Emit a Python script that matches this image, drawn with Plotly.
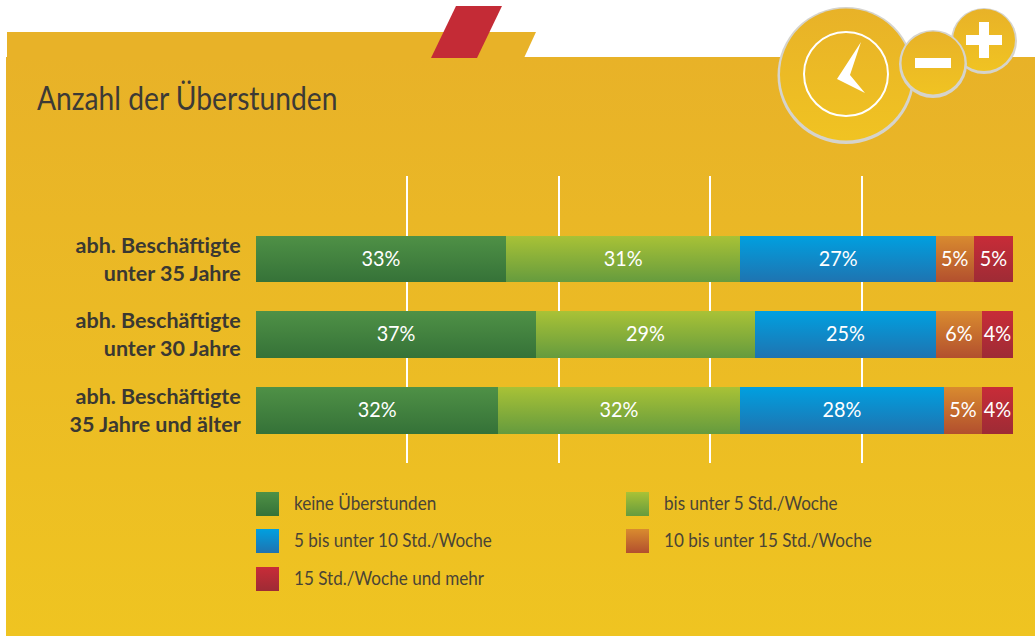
import plotly.graph_objects as go

W, H = 1035, 636
FONT = "Lato, Noto Sans, sans-serif"

categories = ["<b>abh. Beschäftigte<br>unter 35 Jahre</b>",
              "<b>abh. Beschäftigte<br>unter 30 Jahre</b>",
              "<b>abh. Beschäftigte<br>35 Jahre und älter</b>"]
series_names = ["keine Überstunden", "bis unter 5 Std./Woche", "5 bis unter 10 Std./Woche",
                "10 bis unter 15 Std./Woche", "15 Std./Woche und mehr"]
keine = [33.0, 37.0, 32.0]
bis5 = [31.0, 28.9, 31.9]
bis10 = [25.8, 23.9, 27.0]
bis15 = [5.0, 6.1, 5.0]
mehr = [5.2, 4.1, 4.1]
series_values = [keine, bis5, bis10, bis15, mehr]
# printed labels as they appear on the chart
labels_keine = ["33%", "37%", "32%"]
labels_bis5 = ["31%", "29%", "32%"]
labels_bis10 = ["27%", "25%", "28%"]
labels_bis15 = ["5%", "6%", "5%"]
labels_mehr = ["5%", "4%", "4%"]
series_labels = [labels_keine, labels_bis5, labels_bis10, labels_bis15, labels_mehr]
grid_ticks = [20, 40, 60, 80]

flat = ["#3f8240", "#86ad3a", "#0f8ccb", "#c46e2e", "#b32b37"]
grads = [("#4f9146", "#357238"), ("#a9c236", "#659b3e"), ("#00a0e0", "#1f73b0"),
         ("#d98b2f", "#b24f2e"), ("#c82c38", "#9e2b35")]


def px(x):
    return x / W


def py(y):
    return 1 - y / H


def path(points):
    return "M" + "L".join(f"{px(x):.5f},{py(y):.5f}" for x, y in points) + "Z"


shapes = []
gradmap = {}


def add_poly(points, color, grad=None, layer="below"):
    shapes.append(dict(type="path", xref="paper", yref="paper", path=path(points),
                       fillcolor=color, line=dict(width=0), layer=layer))
    if grad:
        gradmap[len(shapes) - 1] = grad


def add_circle(cx, cy, r, fill=None, line=None, lw=0, grad=None):
    shapes.append(dict(type="circle", xref="paper", yref="paper",
                       x0=px(cx - r), x1=px(cx + r), y0=py(cy + r), y1=py(cy - r),
                       fillcolor=fill if fill else "rgba(0,0,0,0)",
                       line=dict(width=lw, color=line if line else "rgba(0,0,0,0)"), layer="below"))
    if grad:
        gradmap[len(shapes) - 1] = grad


# card with tab
add_poly([(6, 57), (1035, 57), (1035, 636), (6, 636)], "#ebba25", "bg")
add_poly([(7, 32), (536, 32), (524, 58), (7, 58)], "#e8b228")
add_poly([(456, 6), (502, 6), (477, 58), (431, 58)], "#c42b36")
# clock badge
add_circle(846, 75.5, 68.5, "#d5d3cc")
add_circle(846, 74.5, 66, "#ecbc26", grad="badge")
add_circle(846, 74, 42, None, "#ffffff", 2)
add_poly([(861, 42), (837, 79), (865, 93), (850, 75)], "#ffffff")
# plus
add_circle(984, 41, 33, "#d5d3cc")
add_circle(984, 40, 31, "#ecbc26", grad="badge")
add_poly([(966, 35), (979, 35), (979, 22), (989, 22), (989, 35), (1002, 35), (1002, 45),
          (989, 45), (989, 58), (979, 58), (979, 45), (966, 45)], "#ffffff")
# minus
add_circle(933, 64, 34, "#d5d3cc")
add_circle(933, 63, 31.5, "#ecbc26", grad="badge")
add_poly([(915, 58), (951, 58), (951, 68), (915, 68)], "#ffffff")

annotations = [dict(text="Anzahl der Überstunden", x=px(35), y=py(97), xref="paper", yref="paper",
                    xanchor="left", yanchor="middle", showarrow=False,
                    font=dict(family=FONT, size=33, color="#3c3a36", weight=400))]

# legend, built from the series names
legend_pos = [(256, 504), (626, 504), (256, 541), (626, 541), (256, 579)]
for i, (name, (lx, ly)) in enumerate(zip(series_names, legend_pos)):
    add_poly([(lx, ly - 12), (lx + 23, ly - 12), (lx + 23, ly + 12), (lx, ly + 12)], flat[i], f"s{i}")
    annotations.append(dict(text=name, x=px(lx + 36), y=py(ly - 2), xref="paper", yref="paper",
                            xanchor="left", yanchor="middle", showarrow=False,
                            font=dict(family=FONT, size=19, color="#4a4436")))

fig = go.Figure()
for name, vals, labs, col in zip(series_names, series_values, series_labels, flat):
    fig.add_trace(go.Bar(y=categories, x=vals, name=name, orientation="h", marker=dict(color=col, line=dict(width=0)),
                         text=labs, textposition="inside", insidetextanchor="middle", textangle=0,
                         constraintext="none", cliponaxis=False,
                         insidetextfont=dict(family=FONT, size=22, color="#ffffff", weight=400), hoverinfo="skip"))

fig.update_layout(
    width=W, height=H, barmode="stack", bargap=0.38, showlegend=False,
    margin=dict(l=0, r=0, t=0, b=0, pad=0), paper_bgcolor="#ffffff", plot_bgcolor="rgba(0,0,0,0)",
    shapes=shapes, annotations=annotations,
    xaxis=dict(domain=[px(256), px(1013)], range=[0, 100], tickvals=grid_ticks, showticklabels=False,
               showgrid=True, gridcolor="#ffffff", gridwidth=1.5, zeroline=False, showline=False, ticks=""),
    yaxis=dict(domain=[py(463), py(176)], range=[2.70, -1.10], type="category", categoryorder="array",
               categoryarray=categories, showgrid=False, zeroline=False, showline=False,
               ticks="outside", ticklen=10, tickcolor="rgba(0,0,0,0)",
               tickfont=dict(family=FONT, size=21.5, color="#3a3832")),
)

stops = {"bg": ("#e8b228", "#efc421"), "badge": ("#e8b228", "#f0c322")}
for i, g in enumerate(grads):
    stops[f"s{i}"] = g

defs = "".join(
    f'<linearGradient id="g_{k}" x1="0" y1="0" x2="0" y2="1"><stop offset="0" stop-color="{a}"/>'
    f'<stop offset="1" stop-color="{b}"/></linearGradient>' for k, (a, b) in stops.items())
shape_map = ",".join(f'"{k}":"{v}"' for k, v in gradmap.items())
post = """
document.body.style.margin='0';
var gd=document.querySelector('.plotly-graph-div');
var d=document.createElementNS('http://www.w3.org/2000/svg','svg');
d.setAttribute('width','0');d.setAttribute('height','0');d.style.position='absolute';
d.innerHTML='<defs>%s</defs>';
document.body.insertBefore(d,document.body.firstChild);
var sm={%s};
Object.keys(sm).forEach(function(i){
  gd.querySelectorAll('.shapelayer path[data-index="'+i+'"]').forEach(function(p){p.style.fill='url(#g_'+sm[i]+')';});
});
gd.querySelectorAll('.barlayer .trace').forEach(function(t,i){
  t.querySelectorAll('.point path').forEach(function(p){p.style.fill='url(#g_s'+i+')';});
});
function squeeze(t,r){
  var b=t.getBBox(), len=t.getComputedTextLength();
  t.style.textAnchor='start';
  t.setAttribute('x',b.x);
  t.setAttribute('textLength',len*r);
  t.setAttribute('lengthAdjust','spacingAndGlyphs');
}
gd.querySelectorAll('.annotation-text').forEach(function(t,i){ squeeze(t,i===0?0.855:0.9); });
gd.querySelectorAll('.bartext').forEach(function(t){
  var len=t.getComputedTextLength();
  t.setAttribute('textLength',len*0.9);
  t.setAttribute('lengthAdjust','spacingAndGlyphs');
  t.setAttribute('y',parseFloat(t.getAttribute('y'))-2);
});
gd.querySelectorAll('.ytick text').forEach(function(t){
  t.setAttribute('y',parseFloat(t.getAttribute('y'))-1);
});
""" % (defs, shape_map)

fig.write_html("out.html", post_script=post, config=dict(displayModeBar=False, responsive=False))
